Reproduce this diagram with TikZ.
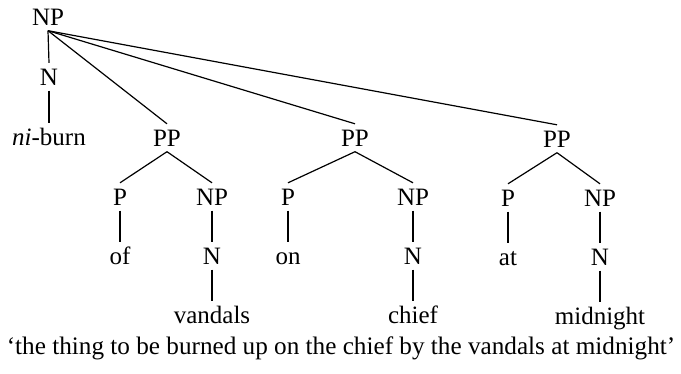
\documentclass[tikz,border=0pt]{standalone}
\usepackage{fontspec}
\setmainfont{Liberation Serif}
\usepackage{tikz}
\usetikzlibrary{positioning}
\tikzset{
    tree_lbl/.style={
        anchor=base, inner xsep=0pt, inner ysep=5.5pt,
        text height=16.5pt, text depth=0pt,
        font=\fontsize{25}{29}\selectfont
    },
    caption_lbl/.style={
        anchor=base, inner sep=0pt,
        font=\fontsize{25.2}{29}\selectfont
    },
    branch_line/.style={
        draw=black, line width=1.2pt
    }
}
\begin{document}
\begin{tikzpicture}[x=1pt, y=-1pt]
    \useasboundingbox (0, 0) rectangle (681, 373);

    % Root and head
    \node[tree_lbl] (root) at (48, 25) {NP};
    \node[tree_lbl] (head) at (49, 85) {N};
    \node[tree_lbl] (niburn) at (49, 145) {\textit{ni}-burn};

    % First PP
    \node[tree_lbl] (ppA) at (167, 146) {PP};
    \node[tree_lbl] (pA) at (120, 205) {P};
    \node[tree_lbl] (npA) at (212, 205) {NP};
    \node[tree_lbl] (of) at (120, 264) {of};
    \node[tree_lbl] (nA) at (212, 264) {N};
    \node[tree_lbl] (vandals) at (212, 323) {vandals};

    % Second PP
    \node[tree_lbl] (ppB) at (355, 146) {PP};
    \node[tree_lbl] (pB) at (288, 205) {P};
    \node[tree_lbl] (npB) at (413, 205) {NP};
    \node[tree_lbl] (on) at (288, 264) {on};
    \node[tree_lbl] (nB) at (413, 264) {N};
    \node[tree_lbl] (chief) at (413, 323) {chief};

    % Third PP
    \node[tree_lbl] (ppC) at (557, 147) {PP};
    \node[tree_lbl] (pC) at (508, 206) {P};
    \node[tree_lbl] (npC) at (600, 206) {NP};
    \node[tree_lbl] (at) at (508, 265) {at};
    \node[tree_lbl] (nC) at (600, 265) {N};
    \node[tree_lbl] (midnight) at (600, 324) {midnight};

    % Gloss
    \node[caption_lbl] (gloss) at (341, 354) {‘the thing to be burned up on the chief by the vandals at midnight’};

    % Branches
    \draw[branch_line] (root.south) -- (head.north);
    \draw[branch_line] (head.south) -- (niburn.north);
    \draw[branch_line] (root.south) -- (ppA.north);
    \draw[branch_line] (root.south) -- (ppB.north);
    \draw[branch_line] (root.south) -- (ppC.north);

    \draw[branch_line] (ppA.south) -- (pA.north);
    \draw[branch_line] (ppA.south) -- (npA.north);
    \draw[branch_line] (pA.south) -- (of.north);
    \draw[branch_line] (npA.south) -- (nA.north);
    \draw[branch_line] (nA.south) -- (vandals.north);

    \draw[branch_line] (ppB.south) -- (pB.north);
    \draw[branch_line] (ppB.south) -- (npB.north);
    \draw[branch_line] (pB.south) -- (on.north);
    \draw[branch_line] (npB.south) -- (nB.north);
    \draw[branch_line] (nB.south) -- (chief.north);

    \draw[branch_line] (ppC.south) -- (pC.north);
    \draw[branch_line] (ppC.south) -- (npC.north);
    \draw[branch_line] (pC.south) -- (at.north);
    \draw[branch_line] (npC.south) -- (nC.north);
    \draw[branch_line] (nC.south) -- (midnight.north);
\end{tikzpicture}
\end{document}
